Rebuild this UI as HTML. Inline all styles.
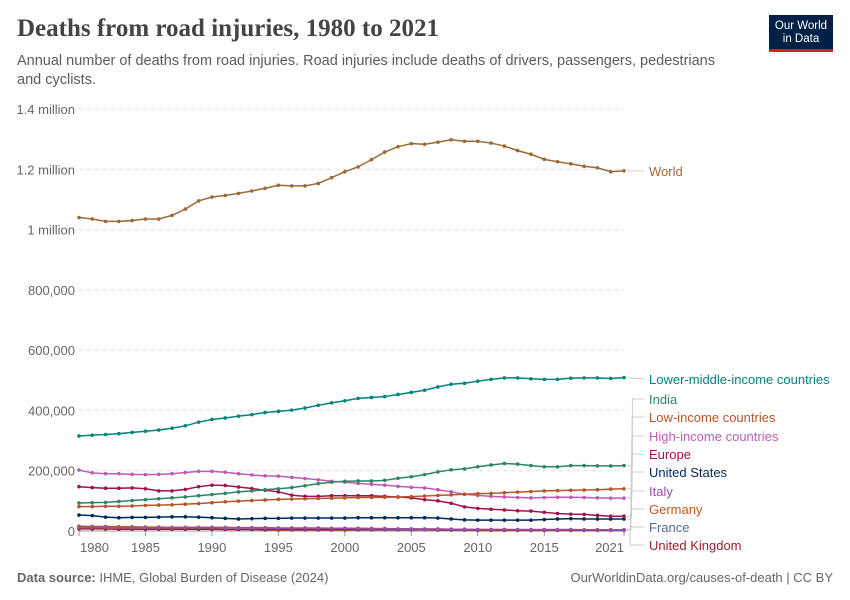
<!DOCTYPE html>
<html><head><meta charset="utf-8"><style>
body{margin:0;background:#fff;font-family:"Liberation Sans",sans-serif}
#wrap{position:relative;width:850px;height:600px;overflow:hidden}
.t{position:absolute;white-space:nowrap}
</style></head><body>
<div id="wrap">
<div class="t" style="left:17px;top:15px;font-family:'Liberation Serif',serif;font-size:25px;font-weight:bold;color:#444">Deaths from road injuries, 1980 to 2021</div>
<div class="t" style="left:17px;top:52px;font-size:14.5px;color:#5b5b5b;line-height:19px;white-space:normal;width:720px">Annual number of deaths from road injuries. Road injuries include deaths of drivers, passengers, pedestrians and cyclists.</div>
<div style="position:absolute;left:769px;top:15px;width:64px;height:37px;background:#002147;border-bottom:3px solid #ce261e;color:#fff;font-size:11.5px;text-align:center;line-height:13px;padding-top:5px;box-sizing:border-box">Our World<br>in Data</div>
<svg id="chart" width="850" height="600" style="position:absolute;left:0;top:0"></svg>
<div class="t" style="left:17px;top:570px;font-size:13px;color:#666"><b>Data source:</b> IHME, Global Burden of Disease (2024)</div>
<div class="t" style="right:17px;top:570px;font-size:13px;color:#666">OurWorldinData.org/causes-of-death | CC BY</div>
</div>
<script>
const years=[];for(let y=1980;y<=2021;y++)years.push(y);
const yTicks=[0,200000,400000,600000,800000,1000000,1200000,1400000];
const yTickLabels=["0","200,000","400,000","600,000","800,000","1 million","1.2 million","1.4 million"];
const xTicks=[1980,1985,1990,1995,2000,2005,2010,2015,2021];
const seriesNames=["World","Lower-middle-income countries","India","Low-income countries","High-income countries","Europe","United States","Italy","Germany","France","United Kingdom"];
const seriesColors=["#9a6a36","#00847e","#2c8465","#b5562a","#bf5bb7","#a2104d","#00295b","#9a4dac","#c05917","#4c6a9c","#971e2e"];
const labelY=[171,379,399,417,436,454,472,491,509,527,545];
const world=[1040,1035,1027,1027,1030,1035,1035,1047,1068,1095,1108,1113,1120,1128,1137,1147,1145,1145,1153,1172,1192,1208,1232,1257,1275,1285,1283,1290,1298,1293,1293,1287,1277,1262,1250,1233,1225,1218,1210,1205,1192,1195];
const lmic=[315,318,320,323,327,331,335,341,349,361,370,375,381,386,393,397,401,408,417,425,432,440,443,446,453,460,467,478,487,490,497,503,508,508,505,503,503,507,508,508,506,509];
const india=[93,94,95,98,101,104,107,110,113,117,121,125,130,133,137,140,144,150,157,162,165,166,166,168,175,180,187,196,203,206,213,219,224,222,217,213,213,217,217,216,216,217];
const lowIncome=[81,81,82,82,83,85,86,87,89,91,94,97,99,101,103,105,106,107,108,109,110,111,111,112,113,114,116,118,120,122,124,125,127,129,131,133,134,135,136,137,139,140];
const highIncome=[202,193,190,190,188,187,188,190,194,198,198,195,190,186,183,182,178,174,170,165,162,158,155,152,148,145,143,137,130,122,118,115,113,111,110,111,112,112,111,110,109,109];
const europe=[147,144,142,142,143,140,133,133,138,147,152,151,146,141,135,130,119,115,115,117,117,117,117,115,113,110,104,100,92,80,75,72,70,67,66,62,58,56,55,52,49,49];
const us=[53,51,46,44,45,45,46,47,47,46,44,42,40,41,42,42,43,43,43,43,43,44,44,44,44,44,44,43,40,37,36,36,36,36,36,38,40,41,40,40,40,40];
const italy=[12,12,12,11,11,11,11,11,11,11,11,10,10,10,9,9,9,9,9,9,9,8,8,8,7,7,7,7,6,6,5,5,5,5,5,5,5,5,4,4,4,4];
const germany=[16,15,15,14,14,13,13,12,12,12,12,12,11,11,11,10,10,10,10,9,9,9,8,8,7,7,6,6,6,5,5,5,5,4,4,4,4,4,4,4,4,4];
const france=[14,14,13,13,13,12,12,12,12,12,12,11,10,10,9,9,9,9,9,9,9,8,8,7,6,6,5,5,5,5,4,4,4,4,4,4,4,4,4,4,3,3];
const uk=[7,7,7,6,6,6,6,6,6,6,6,5,5,5,4,4,4,4,4,4,4,4,4,4,4,4,4,3,3,3,2,2,2,2,2,2,2,2,2,2,2,2];
const seriesData=[world,lmic,india,lowIncome,highIncome,europe,us,italy,germany,france,uk];
const X0=79,X1=624,Y0=531,Y1=109;
const xs=y=>X0+(y-1980)/(2021-1980)*(X1-X0);
const ys=v=>Y0-v/1400000*(Y0-Y1);
const svg=document.getElementById('chart');const NS='http://www.w3.org/2000/svg';
function mk(t,a){const e=document.createElementNS(NS,t);for(const k in a)e.setAttribute(k,a[k]);svg.appendChild(e);return e;}
yTicks.forEach((v,i)=>{
 const l=mk('line',{x1:X0,x2:X1,y1:ys(v),y2:ys(v),stroke:i?'#ddd':'#999','stroke-dasharray':i?'4,4':'none'});
 
 
 const t=mk('text',{x:75,y:ys(v)+5,'text-anchor':'end','font-size':13,fill:'#666','font-family':'Liberation Sans'});
 t.textContent=yTickLabels[i];
 
 
});
xTicks.forEach((y,i)=>{
 const tk=mk('line',{x1:xs(y),x2:xs(y),y1:Y0,y2:Y0+5,stroke:'#999'});
 
 
 const anchor=i===0?'start':(i===xTicks.length-1?'end':'middle');
 const t=mk('text',{x:xs(y)+(i===0?1:0),y:552,'text-anchor':anchor,'font-size':13,fill:'#666','font-family':'Liberation Sans'});
 t.textContent=y;
 
 
});
for(let s=seriesData.length-1;s>=0;s--){
 const d=seriesData[s],c=seriesColors[s];
 const p=mk('polyline',{points:d.map((v,i)=>xs(years[i])+','+ys(v*1000)).join(' '),fill:'none',stroke:c,'stroke-width':1.5});
 
 
 d.forEach((v,i)=>{const m=mk('circle',{cx:xs(years[i]),cy:ys(v*1000),r:1.8,fill:c});
  
  });
 const ey=ys(d[d.length-1]*1000),ly=labelY[s];
 const ln=mk('polyline',{points:s<2?`${X1+3},${ey} 644,${ly}`:`${X1+3},${ey} ${630+(10-s)*0.3},${ey} ${630+(10-s)*0.3},${ly} 644,${ly}`,fill:'none',stroke:'#ccc','stroke-width':1});
 
 
 const t=mk('text',{x:649,y:ly+5,'font-size':13,fill:c,'font-family':'Liberation Sans'});
 t.textContent=seriesNames[s];
 
 
}
</script>
</body></html>
